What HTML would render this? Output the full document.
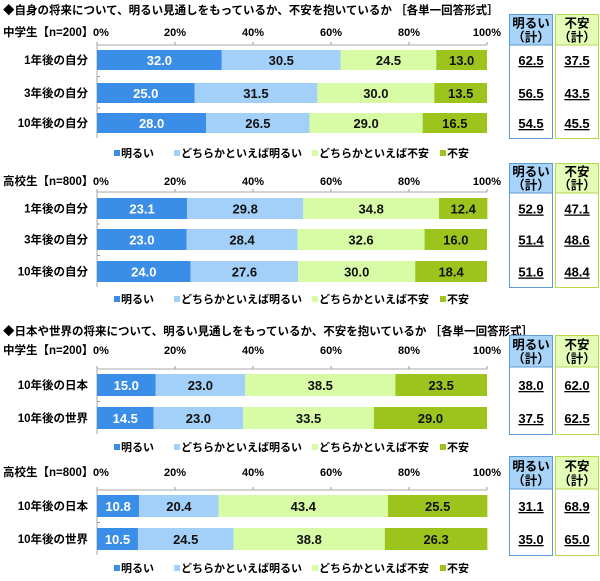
<!DOCTYPE html>
<html><head><meta charset="utf-8"><style>
body{margin:0;background:#fff;}
svg text{font-family:"Liberation Sans","Noto Sans CJK JP",sans-serif;font-weight:bold;}
</style></head><body>
<svg id="c" width="600" height="576" xmlns="http://www.w3.org/2000/svg">
<text x="3" y="14" font-size="11.5">◆自身の将来について、明るい見通しをもっているか、不安を抱いているか ［各単一回答形式］</text>
<text x="3" y="335" font-size="11.5">◆日本や世界の将来について、明るい見通しをもっているか、不安を抱いているか ［各単一回答形式］</text>
</svg>
<script>
const seriesNames=["明るい","どちらかといえば明るい","どちらかといえば不安","不安"];
const colors=["#3b8ee8","#a3d0f8","#d8fba6","#9cc41c"];
const ticks=["0%","20%","40%","60%","80%","100%"];
const p1Title="中学生【n=200】", p1Cats=["1年後の自分","3年後の自分","10年後の自分"];
const p1Vals=[[32.0,30.5,24.5,13.0],[25.0,31.5,30.0,13.5],[28.0,26.5,29.0,16.5]];
const p1Tot=[["62.5","37.5"],["56.5","43.5"],["54.5","45.5"]];
const p2Title="高校生【n=800】", p2Cats=["1年後の自分","3年後の自分","10年後の自分"];
const p2Vals=[[23.1,29.8,34.8,12.4],[23.0,28.4,32.6,16.0],[24.0,27.6,30.0,18.4]];
const p2Tot=[["52.9","47.1"],["51.4","48.6"],["51.6","48.4"]];
const p3Title="中学生【n=200】", p3Cats=["10年後の日本","10年後の世界"];
const p3Vals=[[15.0,23.0,38.5,23.5],[14.5,23.0,33.5,29.0]];
const p3Tot=[["38.0","62.0"],["37.5","62.5"]];
const p4Title="高校生【n=800】", p4Cats=["10年後の日本","10年後の世界"];
const p4Vals=[[10.8,20.4,43.4,25.5],[10.5,24.5,38.8,26.3]];
const p4Tot=[["31.1","68.9"],["35.0","65.0"]];

const svg=document.getElementById('c');
const NS="http://www.w3.org/2000/svg";
const X0=97,X1=487;
const xs=v=>X0+(X1-X0)*v/100;
function el(t,a,txt){const e=document.createElementNS(NS,t);for(const k in a)e.setAttribute(k,a[k]);if(txt!=null)e.textContent=txt;svg.appendChild(e);return e;}

function panel(title,cats,vals,tots,cfg){
  const {labelY,frameTop,bars,frameBot,legendY,boxTop,boxHeadBot}=cfg;
  // total boxes first
  [[509,553,'#5b9bd5','#a8d4fa','明るい'],[555,599,'#b7d84c','#e3fcb6','不安']].forEach(([a,b,st,fl,h],k)=>{
    let bx=el('rect',{x:a+.5,y:boxTop+.5,width:b-a-1,height:frameBot-boxTop,fill:'#fff',stroke:st});
    
    
    let hd=el('rect',{x:a+1,y:boxTop+1,width:b-a-2,height:boxHeadBot-boxTop-1,fill:fl});
    
    
    el('line',{x1:a,x2:b,y1:boxHeadBot,y2:boxHeadBot,stroke:st});
    const mid=(a+b)/2,hh=boxHeadBot-boxTop;
    let h1=el('text',{x:mid,y:boxTop+hh*0.44,'font-size':12.5,'text-anchor':'middle'},h);
    
    let h2=el('text',{x:mid,y:boxTop+hh*0.88,'font-size':12.5,'text-anchor':'middle'},'（計）');
    
  });
  let t=el('text',{x:3,y:labelY+4,'font-size':11.5},title);
  
  
  ticks.forEach((s,i)=>{
    const x=xs(i*20);
    let tt=el('text',{x:i==0?x-4:x,y:labelY+4,'font-size':11,'text-anchor':i==0?'start':'middle','font-weight':'normal'},s);
    
    
    let tl=el('line',{x1:x,x2:x,y1:frameTop-3,y2:frameTop,stroke:'#999'});
    
    
  });
  let fr=el('path',{d:`M${X0},${frameBot}V${frameTop}H${X1}`,fill:'none',stroke:'#aaa'});
  
  
  cats.forEach((c,r)=>{
    const y0=bars[r][0],y1=bars[r][1],cy=(y0+y1)/2;
    let ct=el('text',{x:88,y:cy+4,'font-size':11.5,'text-anchor':'end'},c);
    
    
    if(r>0){let m=el('line',{x1:X0,x2:X0+3,y1:(bars[r-1][1]+y0)/2,y2:(bars[r-1][1]+y0)/2,stroke:'#999'});
      }
    let acc=0;
    vals[r].forEach((v,k)=>{
      const xa=xs(acc),xb=xs(acc+v);acc+=v;
      let b=el('rect',{x:xa,y:y0,width:xb-xa,height:y1-y0,fill:colors[k]});
      
      
      let bt=el('text',{x:(xa+xb)/2,y:cy+5,'font-size':13,'text-anchor':'middle',fill:k==0?'#fff':'#111','font-weight':'normal'},v.toFixed(1));
      
      
    });
    tots[r].forEach((s,k)=>{
      const cx=k==0?531:577;
      let tv=el('text',{x:cx,y:cy+5,'font-size':13,'text-anchor':'middle','text-decoration':'underline','font-weight':'normal'},s);
      
      
    });
  });
  [117,177,315,443].forEach((lx,k)=>{
    let sq=el('rect',{x:lx-3,y:legendY-3,width:6,height:6,fill:colors[k]});
    
    
    let lt=el('text',{x:lx+4,y:legendY+4,'font-size':11},seriesNames[k]);
    
    
  });
}
panel(p1Title,p1Cats,p1Vals,p1Tot,{labelY:32,frameTop:45,bars:[[50,70],[83,103],[113,133]],frameBot:138,legendY:153,boxTop:14,boxHeadBot:45});
panel(p2Title,p2Cats,p2Vals,p2Tot,{labelY:181,frameTop:192,bars:[[198,219],[229,250],[261,282]],frameBot:287,legendY:299,boxTop:163,boxHeadBot:193});
panel(p3Title,p3Cats,p3Vals,p3Tot,{labelY:350,frameTop:369,bars:[[374,396],[407,429]],frameBot:434,legendY:447,boxTop:335,boxHeadBot:367});
panel(p4Title,p4Cats,p4Vals,p4Tot,{labelY:472,frameTop:490,bars:[[495,517],[528,550]],frameBot:555,legendY:568,boxTop:456,boxHeadBot:489});
</script>
</body></html>
